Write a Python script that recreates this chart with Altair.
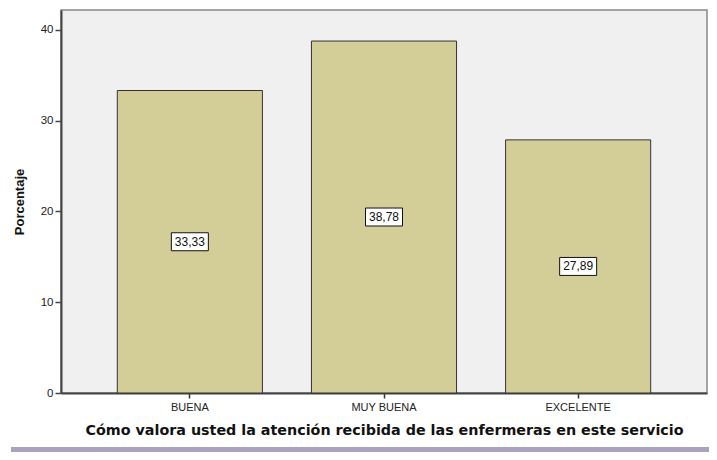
import altair as alt
import pandas as pd

categories = ["BUENA", "MUY BUENA", "EXCELENTE"]
values = [33.33, 38.78, 27.89]
labels = ["33,33", "38,78", "27,89"]
y_ticks = [0, 10, 20, 30, 40]

df = pd.DataFrame({"cat": categories, "val": values, "lab": labels})
df["half"] = df["val"] / 2

x_enc = alt.X("cat:N", sort=categories,
              scale=alt.Scale(paddingInner=0.2526, paddingOuter=0.29),
              axis=alt.Axis(title="Cómo valora usted la atención recibida de las enfermeras en este servicio",
                            labelAngle=0, labelFont="Liberation Sans", labelFontSize=11,
                            labelColor="#222", tickSize=5, tickColor="#333", tickWidth=1.5,
                            labelPadding=3, titleFont="DejaVu Sans", titleFontWeight="bold",
                            titleFontSize=14.3, titleColor="#111", titlePadding=11,
                            domainColor="#444", domainWidth=2))
y_scale = alt.Scale(domain=[0, 42.2], nice=False)

bars = alt.Chart(df).mark_bar(fill="#d3ce97", stroke="#333", strokeWidth=1).encode(
    x=x_enc,
    y=alt.Y("val:Q", scale=y_scale,
            axis=alt.Axis(title="Porcentaje", values=y_ticks, grid=False,
                          labelFont="Liberation Sans", labelFontSize=11.5, labelColor="#222",
                          tickSize=6, tickColor="#444", tickWidth=1.5, labelPadding=2,
                          titleFont="Liberation Sans", titleFontWeight="bold",
                          titleFontSize=13, titleColor="#111", titlePadding=14,
                          domainColor="#444", domainWidth=2)),
)

boxes = alt.Chart(df).mark_point(
    shape="M-1,-0.486H1V0.486H-1Z", size=1369, filled=True, fill="white",
    stroke="#111", strokeWidth=1, opacity=1
).encode(x=alt.X("cat:N", sort=categories), y=alt.Y("half:Q", scale=y_scale))

texts = alt.Chart(df).mark_text(font="Liberation Sans", fontSize=12, color="#111", baseline="middle").encode(
    x=alt.X("cat:N", sort=categories), y=alt.Y("half:Q", scale=y_scale), text="lab:N"
)

deco = alt.Data(values=[{"k": 1}])
strip = alt.Chart(deco).mark_rect(fill="#aaa2bf", clip=False).encode(
    x=alt.value(-50), x2=alt.value(660), y=alt.value(437), y2=alt.value(445)
)

chart = alt.layer(bars, boxes, texts, strip).properties(
    width=646, height=383,
    autosize=alt.AutoSizeParams(type="none"),
    padding={"left": 53, "top": 2, "right": 2, "bottom": 59},
    background="white",
).configure_view(fill="#f0f0f0", stroke="#888", strokeWidth=1.5)

chart.save("out.html", embed_options={"renderer": "svg", "actions": False})
